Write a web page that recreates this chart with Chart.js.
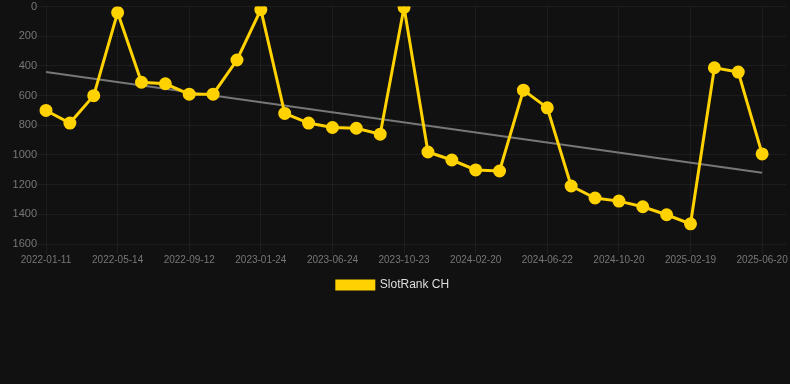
<!DOCTYPE html>
<html>
<head>
<meta charset="utf-8">
<script src="https://cdn.jsdelivr.net/npm/chart.js@4/dist/chart.umd.min.js"></script>
<style>
  html, body { margin: 0; padding: 0; background: #111111; }
  #wrap { position: relative; width: 790px; height: 301px; }
</style>
</head>
<body>
<div id="wrap"><canvas id="c"></canvas></div>
<script>
const dates = [
  "2022-01-11", "2022-02-21", "2022-04-03", "2022-05-14", "2022-06-23", "2022-08-03",
  "2022-09-12", "2022-10-26", "2022-12-10", "2023-01-24", "2023-03-15", "2023-05-05",
  "2023-06-24", "2023-08-12", "2023-09-27", "2023-10-23", "2023-12-01", "2024-01-10",
  "2024-02-20", "2024-03-31", "2024-05-11", "2024-06-22", "2024-08-01", "2024-09-10",
  "2024-10-20", "2024-11-29", "2025-01-09", "2025-02-19", "2025-03-31", "2025-05-11",
  "2025-06-20", ""
];
const rankCH = [
  700, 785, 600, 40, 510, 520, 590, 590, 360, 20,
  720, 785, 815, 820, 860, 5, 980, 1034, 1101, 1108,
  563, 682, 1209, 1290, 1311, 1349, 1403, 1464, 412, 441,
  993
];
const trend = [
  440, null, null, null, null, null, null, null, null, null,
  null, null, null, null, null, null, null, null, null, null,
  null, null, null, null, null, null, null, null, null, null,
  1120
];
const yTicks = [0, 200, 400, 600, 800, 1000, 1200, 1400, 1600];

const gridColor = 'rgba(255,255,255,0.05)';

new Chart(document.getElementById('c'), {
  type: 'line',
  data: {
    labels: dates,
    datasets: [
      {
        label: 'SlotRank CH',
        data: rankCH,
        borderColor: '#FFD200',
        backgroundColor: '#FFD200',
        borderWidth: 3,
        pointRadius: 5,
        pointHoverRadius: 5,
        pointBackgroundColor: '#FFD200',
        pointBorderColor: '#FFD200',
        tension: 0,
        order: 1
      },
      {
        label: 'trend',
        data: trend,
        borderColor: '#777777',
        borderWidth: 2,
        pointRadius: 0,
        spanGaps: true,
        order: 2
      }
    ]
  },
  options: {
    responsive: true,
    maintainAspectRatio: false,
    animation: false,
    layout: { autoPadding: false, padding: { left: 0, right: 4 } },
    plugins: {
      legend: {
        position: 'bottom',
        labels: {
          color: '#dddddd',
          font: { family: 'Liberation Sans, Arial, sans-serif', size: 12 },
          boxWidth: 37,
          boxHeight: 8,
          padding: 4,
          filter: (item) => item.text !== 'trend'
        }
      },
      tooltip: { enabled: false }
    },
    scales: {
      x: {
        grid: { color: gridColor, drawTicks: true, tickLength: 10 },
        border: { display: false },
        afterFit: (axis) => { axis.height += 9; },
        ticks: {
          color: '#777777',
          font: { family: 'Liberation Sans, Arial, sans-serif', size: 10 },
          maxRotation: 0,
          autoSkip: true,
          padding: 0
        }
      },
      y: {
        reverse: true,
        min: yTicks[0],
        max: yTicks[yTicks.length - 1],
        grid: { color: gridColor, drawTicks: true, tickLength: 9 },
        border: { display: false },
        afterBuildTicks: (axis) => { axis.ticks = yTicks.map(v => ({ value: v })); },
        afterFit: (axis) => { axis.width = 46; },
        ticks: {
          color: '#777777',
          font: { family: 'Liberation Sans, Arial, sans-serif', size: 11 },
          padding: 0,
          callback: (v) => String(v)
        }
      }
    }
  }
});
</script>
</body>
</html>
